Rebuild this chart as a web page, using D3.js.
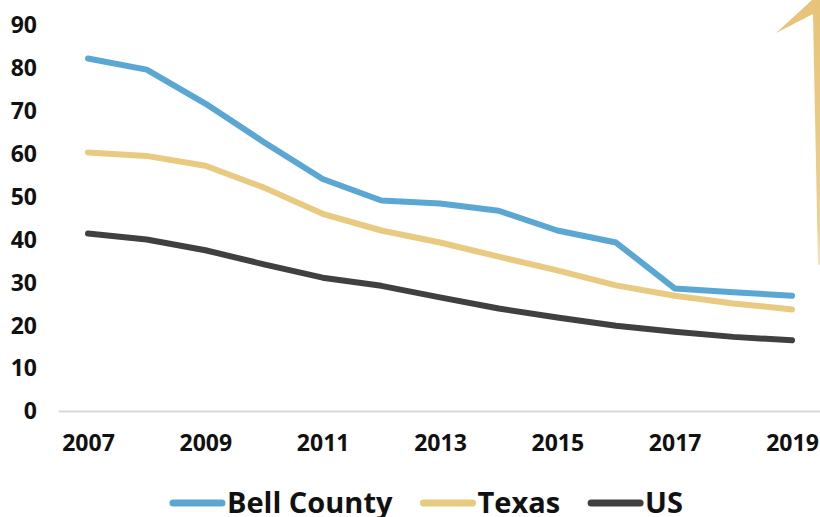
<!DOCTYPE html>
<html>
<head>
<meta charset="utf-8">
<script src="https://cdn.jsdelivr.net/npm/d3@7"></script>
<style>
  body { margin: 0; background: #fff; }
  svg { display: block; font-family: "Open Sans", "DejaVu Sans", sans-serif; font-weight: bold; }
</style>
</head>
<body>
<div id="chart"></div>
<script>
// data
const years = [2007, 2008, 2009, 2010, 2011, 2012, 2013, 2014, 2015, 2016, 2017, 2018, 2019];
const bellCounty = [82.3, 79.7, 71.8, 62.8, 54.2, 49.2, 48.5, 46.8, 42.2, 39.4, 28.7, 27.8, 27.0];
const texas = [60.4, 59.6, 57.3, 52.2, 46.1, 42.2, 39.4, 36.1, 32.9, 29.4, 27.0, 25.2, 23.8];
const us = [41.5, 40.1, 37.6, 34.3, 31.2, 29.3, 26.6, 24.0, 21.9, 20.0, 18.6, 17.4, 16.6];
const seriesNames = ["Bell County", "Texas", "US"];
const seriesColors = ["#5aa7d4", "#e8ca80", "#404040"];
const yTicks = [0, 10, 20, 30, 40, 50, 60, 70, 80, 90];
const xTicks = [2007, 2009, 2011, 2013, 2015, 2017, 2019];

const width = 820, height = 517;

const svg = d3.select("#chart").append("svg")
    .attr("width", width)
    .attr("height", height);

const x = d3.scaleLinear().domain([2007, 2019]).range([88, 792]);
const y = d3.scaleLinear().domain([0, 90]).range([411.5, 25.5]);

// decorative gold arrow at top right
const grad = svg.append("defs").append("linearGradient")
    .attr("id", "arrowGrad").attr("x1", 0).attr("y1", 0).attr("x2", 0).attr("y2", 1);
grad.append("stop").attr("offset", "0%").attr("stop-color", "#e6c378");
grad.append("stop").attr("offset", "85%").attr("stop-color", "#ecd08f");
grad.append("stop").attr("offset", "100%").attr("stop-color", "#f6e6bf");
svg.append("polygon")
    .attr("points", "776,33 812,0 830,0 830,265 818,265 813,14")
    .attr("fill", "url(#arrowGrad)");

// baseline
svg.append("line")
    .attr("x1", x(2006.5)).attr("x2", x(2019.5))
    .attr("y1", y(0)).attr("y2", y(0))
    .attr("stroke", "#d9d9d9")
    .attr("stroke-width", 2);

// y axis
const yAxis = svg.append("g")
    .attr("transform", `translate(59,0)`)
    .call(d3.axisLeft(y).tickValues(yTicks).tickSize(0).tickPadding(22));
yAxis.select(".domain").remove();
yAxis.selectAll("text")
    .attr("fill", "#111")
    .style("font-size", "23px")
    .style("font-family", "\"Open Sans\", sans-serif")
    .style("font-weight", "bold");

// x axis
const xAxis = svg.append("g")
    .attr("transform", `translate(0,${y(0)})`)
    .call(d3.axisBottom(x).tickValues(xTicks).tickFormat(d3.format("d")).tickSize(0).tickPadding(23));
xAxis.select(".domain").remove();
xAxis.selectAll("text")
    .attr("fill", "#111")
    .style("font-size", "23px")
    .style("font-family", "\"Open Sans\", sans-serif")
    .style("font-weight", "bold");

// lines
const allSeries = [bellCounty, texas, us];
const line = d3.line()
    .x((d, i) => x(years[i]))
    .y(d => y(d));

allSeries.forEach((values, k) => {
    svg.append("path")
        .datum(values)
        .attr("fill", "none")
        .attr("stroke", seriesColors[k])
        .attr("stroke-width", 6)
        .attr("stroke-linejoin", "round")
        .attr("stroke-linecap", "round")
        .attr("d", line);
});

// legend
const legend = svg.append("g");
let lx = 0;
seriesNames.forEach((name, k) => {
    const item = legend.append("g").attr("transform", `translate(${lx},0)`);
    item.append("line")
        .attr("x1", 2).attr("x2", 51)
        .attr("y1", 503).attr("y2", 503)
        .attr("stroke", seriesColors[k])
        .attr("stroke-width", 7)
        .attr("stroke-linecap", "round");
    const t = item.append("text")
        .attr("x", 56)
        .attr("y", 513)
        .attr("fill", "#111")
        .style("font-size", "29px")
        .text(name);
    lx += 56 + t.node().getComputedTextLength() + 29;
});
const legendWidth = lx - 29;
legend.attr("transform", `translate(${427 - legendWidth / 2},0)`);
</script>
</body>
</html>
